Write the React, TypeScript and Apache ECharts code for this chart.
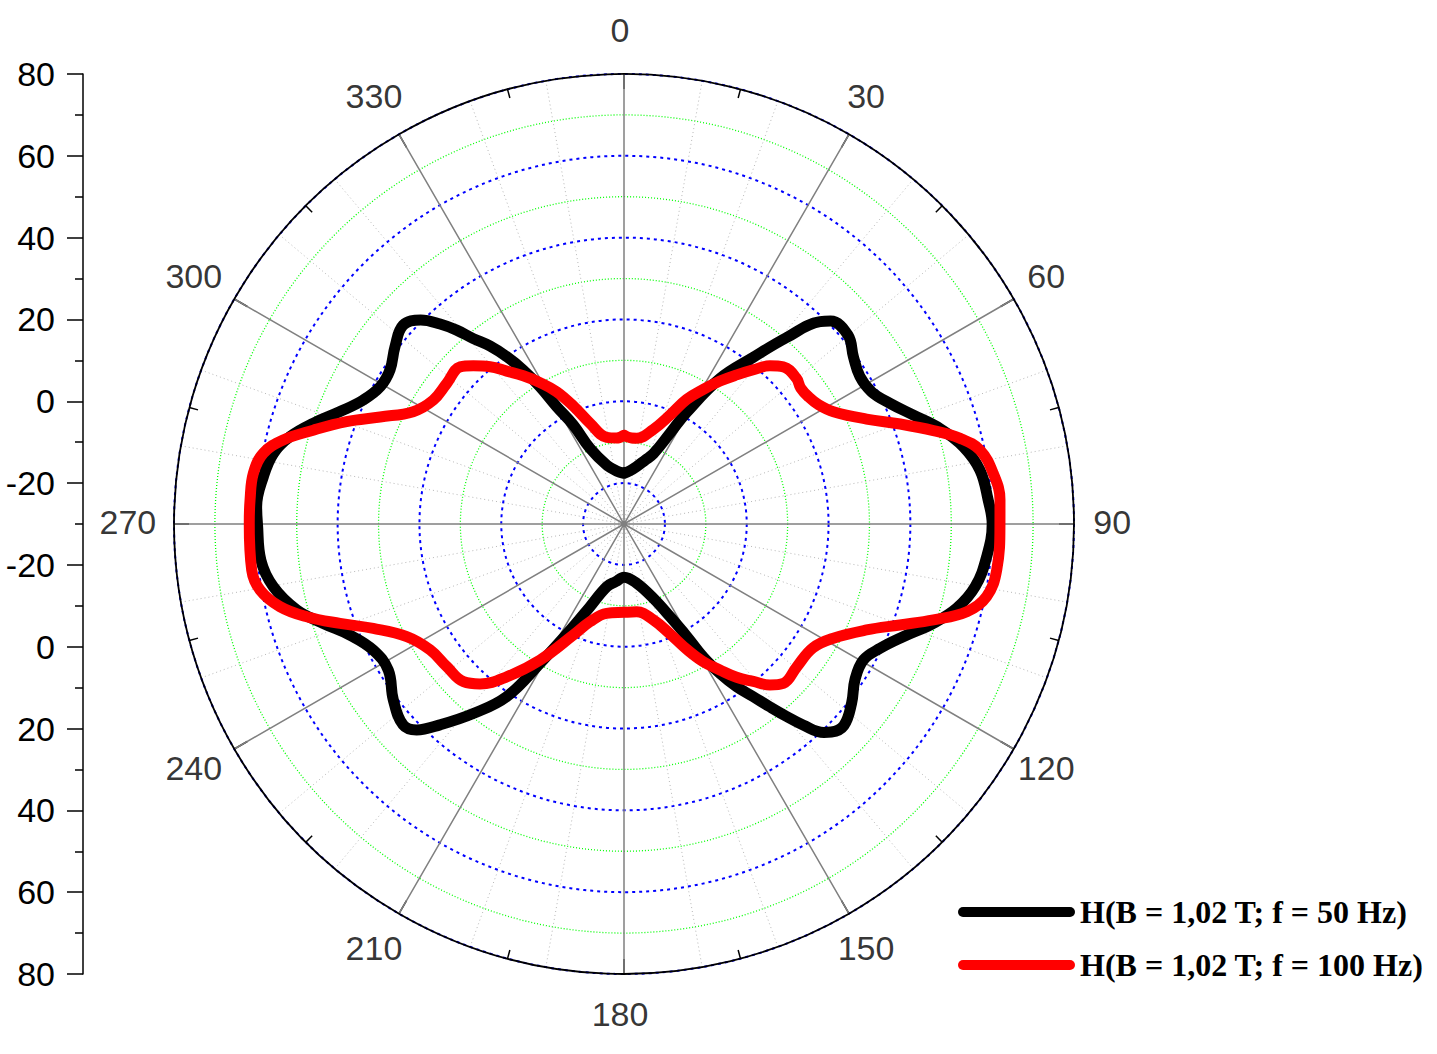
import React, { useEffect, useRef } from "react";
import * as echarts from "echarts";

// ---- data ----
const SERIES_NAMES = ["H(B = 1,02 T; f = 50 Hz)", "H(B = 1,02 T; f = 100 Hz)"];
const ANGLE_TICKS = [0, 30, 60, 90, 120, 150, 180, 210, 240, 270, 300, 330];
const RADIAL_MIN = -30;
const RADIAL_MAX = 80;

const BLACK_ANGLE = [
  0, 6.4, 12.5, 18.2, 22.7, 26.9, 29.3, 33.4, 37.8, 41.1, 44.1, 45.5, 49.9, 53.9, 58.0, 61.9, 65.6, 69.4, 73.2, 77.2, 81.4, 86.2,
  90, 95.2, 100.1, 104.2, 107.8, 112.0, 115.9, 119.6, 124.0, 128.2, 132.5, 135.1, 136.2, 138.3, 139.8, 141.4, 143.2, 145.3, 147.3,
  149.2, 150.8, 153.6, 158.5, 167.9, 180, 188, 195.4, 202.35, 206.3, 211.1, 214.2, 218.5, 222.5, 225.2, 227.7, 232.7, 238.2, 243.3,
  247.95, 251.7, 255.3, 259.9, 264.3, 270, 272.7, 277.5, 281.4, 284.65, 288.0, 291.6, 295.4, 299.4, 303.4, 307.75, 312.0, 315.1,
  317.4, 319.2, 320.9, 323.0, 325.0, 326.8, 328.5, 330.15, 332.9, 335.8, 343.7, 352, 360,
];
const BLACK_VALUE = [
  -17.6, -16.9, -15.6, -13.6, -11.4, -5.1, 1.3, 12.6, 21.6, 30.5, 38.9, 40.8, 41.6, 39.4, 38.0, 38.6, 41.4, 45.6, 50.7, 55.1, 58.0, 59.2,
  60.0, 59.0, 57.2, 53.9, 49.4, 43.6, 39.6, 37.3, 38.1, 40.8, 42.9, 41.8, 40.6, 35.8, 31.6, 27.2, 22.7, 18.4, 13.4,
  7.9, 1.4, -4.7, -10.5, -15.2, -17.0, -15.8, -14.1, -8.15, -2.0, 9.8, 21.0, 29.2, 36.6, 41.45, 43.0, 40.9, 37.8, 38.6,
  42.3, 47.4, 52.7, 57.1, 59.2, 59.6, 59.9, 58.9, 57.4, 54.4, 49.8, 44.65, 40.6, 38.4, 38.5, 40.8, 42.65, 40.4,
  36.4, 32.6, 28.4, 24.5, 19.9, 15.0, 9.4, 3.1, -2.8, -9.7, -15.0, -16.9, -17.6,
];

const RED_ANGLE = [
  0, 5, 8.4, 17.2, 22.9, 26.7, 30.5, 33.9, 37.1, 40.0, 42.7, 45.4, 49.8, 52.4, 55.5, 58.5, 61.8, 66.6, 70.1, 73.2, 75.7, 78.3, 82.2,
  86.3, 90, 97.0, 101.3, 104.35, 107.2, 110.1, 113.6, 118.6, 123.3, 129.6, 135.0, 137.8, 140.6, 143.7, 146.7, 150.1, 153.4, 157.3,
  163.0, 171.8, 180, 191.0, 199.2, 204.5, 211.7, 217.5, 222.0, 225.5, 231.2, 237.0, 242.6, 247.4, 250.7, 253.7, 256.5, 259.7, 262.96,
  270, 273.7, 277.8, 281.1, 283.85, 286.8, 290.25, 293.7, 298.05, 303.0, 308.4, 313.8, 316.4, 319.6, 322.5, 325.8, 329.3, 333.0,
  336.75, 341.35, 348.7, 355, 360,
];
const RED_VALUE = [
  -8.3, -8.9, -8.8, -5.8, -1.1, 4.1, 8.2, 12.1, 15.7, 19.2, 22.6, 24.7, 25.2, 24.5, 24.8, 25.8, 28.1, 34.6, 41.8, 49.0, 54.8, 58.9, 61.1,
  62.1, 61.9, 61.8, 60.4, 56.5, 49.2, 41.8, 34.7, 28.3, 25.2, 24.8, 25.1, 23.1, 19.8, 16.5, 12.7, 8.8, 4.25, -0.9,
  -5.5, -8.3, -8.4, -7.75, -4.7, -0.2, 9.1, 17.1, 22.6, 25.0, 25.6, 26.5, 29.8, 36.4, 43.55, 50.8, 56.5, 60.4, 61.7,
  61.6, 61.6, 61.45, 59.85, 55.8, 49.35, 42.3, 35.1, 28.4, 25.6, 25.3, 25.5, 23.4, 20.5, 17.1, 13.8, 10.2, 6.3,
  1.4, -4.0, -8.4, -8.9, -8.3,
];

// ---- layout constants ----
const CENTER: [number, number] = [624, 524];
const RADIUS = 450;
const LABEL_R_VALUE = 90.3; // radial value where angle labels are centred
const FONT = "Liberation Sans";
const TICK_FONT_SIZE = 34;

export default function App() {
  const ref = useRef<HTMLDivElement>(null);

  useEffect(() => {
    if (!ref.current) return;
    const chart = echarts.init(ref.current, undefined, { renderer: "svg" });
    const span = RADIAL_MAX - RADIAL_MIN;

    const commonAngle = {
      type: "value",
      min: 0,
      max: 360,
      interval: 30,
      startAngle: 90,
      clockwise: true,
      axisLabel: { show: false },
    };
    const commonRadius = {
      type: "value",
      min: RADIAL_MIN,
      max: RADIAL_MAX,
      interval: 10,
      axisLine: { show: false },
      axisTick: { show: false },
      axisLabel: { show: false },
    };

    const option: any = {
      animation: false,
      backgroundColor: "#ffffff",
      polar: [
        { center: CENTER, radius: RADIUS },
        { center: CENTER, radius: RADIUS },
      ],
      radiusAxis: [
        {
          ...commonRadius,
          polarIndex: 0,
          z: 1,
          splitLine: {
            show: true,
            lineStyle: { color: ["rgba(0,0,0,0)", "#0000ff"], type: [3, 4], width: 2 },
          },
        },
        {
          ...commonRadius,
          polarIndex: 1,
          z: 0,
          splitLine: {
            show: true,
            lineStyle: { color: ["#00ff00", "rgba(0,0,0,0)"], type: [1, 2], width: 1.3 },
          },
        },
      ],
      angleAxis: [
        {
          ...commonAngle,
          polarIndex: 0,
          z: 1,
          axisLine: { show: true, lineStyle: { color: "#000", width: 1.8 } },
          axisTick: { show: true, inside: true, length: 15, lineStyle: { color: "#000", width: 1.5 } },
          minorTick: { show: true, splitNumber: 2, length: 9, lineStyle: { color: "#000", width: 1.5 } },
          splitLine: { show: true, lineStyle: { color: "#808080", width: 1.5 } },
        },
        {
          ...commonAngle,
          polarIndex: 1,
          z: 0,
          axisLine: { show: false },
          axisTick: { show: false },
          minorTick: { show: false, splitNumber: 3 },
          splitLine: { show: false },
          minorSplitLine: { show: true, lineStyle: { color: "#b8b8b8", type: [1, 3], width: 1 } },
        },
      ],
      grid: { left: 83, top: 74, width: 1, height: 900 },
      xAxis: { type: "value", show: false, min: 0, max: 1 },
      yAxis: {
        type: "value",
        min: -span,
        max: span,
        interval: 20,
        axisLine: { show: true, lineStyle: { color: "#000", width: 1.5 } },
        axisTick: { show: true, length: 16, lineStyle: { color: "#000", width: 1.5 } },
        minorTick: { show: true, splitNumber: 2, length: 8, lineStyle: { color: "#000", width: 1.5 } },
        splitLine: { show: false },
        axisLabel: {
          formatter: (v: number) => String(Math.abs(v) + RADIAL_MIN),
          fontSize: TICK_FONT_SIZE,
          fontFamily: FONT,
          color: "#000",
          margin: 28,
        },
      },
      legend: {
        data: SERIES_NAMES,
        orient: "vertical",
        left: 958,
        top: 896,
        padding: 0,
        itemGap: 21,
        itemWidth: 117,
        itemHeight: 10,
        icon: "path://M5,0H112A5,5,0,0,1,112,10H5A5,5,0,0,1,5,0Z",
        itemStyle: { borderWidth: 0 },
        selectedMode: false,
        textStyle: { fontFamily: "Liberation Serif", fontWeight: "bold", fontSize: 32, color: "#000" },
      },
      series: [
        {
          type: "line",
          name: SERIES_NAMES[0],
          coordinateSystem: "polar",
          polarIndex: 0,
          data: BLACK_VALUE.map((v, i) => [v, BLACK_ANGLE[i]]),
          showSymbol: false,
          symbol: "none",
          smooth: 0.4,
          itemStyle: { color: "#000000" },
          lineStyle: { color: "#000000", width: 11, cap: "round", join: "round" },
        },
        {
          type: "line",
          name: SERIES_NAMES[1],
          coordinateSystem: "polar",
          polarIndex: 0,
          data: RED_VALUE.map((v, i) => [v, RED_ANGLE[i]]),
          showSymbol: false,
          symbol: "none",
          smooth: 0.4,
          itemStyle: { color: "#ff0000" },
          lineStyle: { color: "#ff0000", width: 11, cap: "round", join: "round" },
        },
        {
          type: "scatter",
          coordinateSystem: "polar",
          polarIndex: 0,
          clip: false,
          silent: true,
          symbolSize: 1,
          itemStyle: { color: "rgba(0,0,0,0)" },
          data: ANGLE_TICKS.map((a) => [LABEL_R_VALUE, a]),
          label: {
            show: true,
            position: "inside",
            offset: [-4, -2],
            formatter: (p: any) => String(p.value[1]),
            fontSize: TICK_FONT_SIZE,
            fontFamily: FONT,
            color: "#000",
          },
          z: 5,
        },
      ],
    };

    chart.setOption(option);
    return () => chart.dispose();
  }, []);

  return (
    <div
      ref={ref}
      style={{ position: "absolute", left: 0, top: 0, width: 1437, height: 1054, background: "#fff" }}
    />
  );
}
